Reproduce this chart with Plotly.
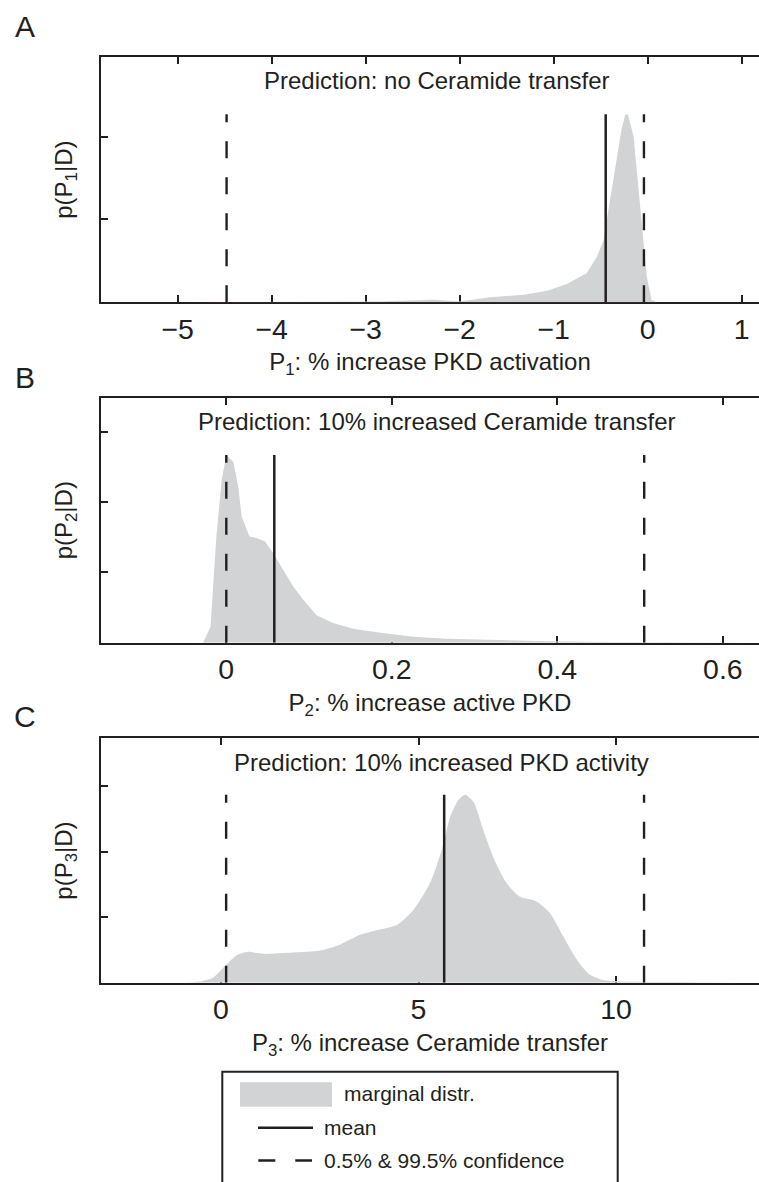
import plotly.graph_objects as go

# ---------------- data ----------------
panel_letters = ["A", "B", "C"]
titles = ["Prediction: no Ceramide transfer",
          "Prediction: 10% increased Ceramide transfer",
          "Prediction: 10% increased PKD activity"]
xlabels = ["P<sub>1</sub>: % increase PKD activation",
           "P<sub>2</sub>: % increase active PKD",
           "P<sub>3</sub>: % increase Ceramide transfer"]
ylabels = ["p(P<sub>1</sub>|D)", "p(P<sub>2</sub>|D)", "p(P<sub>3</sub>|D)"]

p1_x = [-5.0, -4.5, -4.0, -3.5, -3.0, -2.85, -2.28, -2.0, -1.68, -1.32, -1.07, -0.86,
        -0.65, -0.54, -0.47, -0.40, -0.33, -0.28, -0.24, -0.21, -0.15, -0.10, -0.05,
        -0.01, 0.04, 0.10]
p1_d = [0.0, 0.004, 0.006, 0.008, 0.01, 0.01, 0.03, 0.01, 0.06, 0.09, 0.14, 0.22,
        0.35, 0.55, 0.75, 1.24, 1.76, 2.08, 2.26, 2.27, 2.0, 1.40, 0.75,
        0.31, 0.03, 0.0]

p2_x = [-0.028, -0.019, -0.012, -0.0056, 0.0, 0.0085, 0.0145, 0.0186, 0.028, 0.0367,
        0.0468, 0.057, 0.069, 0.081, 0.093, 0.109, 0.129, 0.153, 0.182, 0.226, 0.266,
        0.327, 0.387, 0.467, 0.55, 0.64]
p2_d = [0.0, 0.23, 1.51, 2.31, 2.67, 2.57, 2.22, 1.79, 1.51, 1.49,
        1.44, 1.27, 1.03, 0.80, 0.61, 0.39, 0.28, 0.20, 0.15, 0.085, 0.057,
        0.038, 0.02, 0.01, 0.005, 0.0]

p3_x = [-1.04, -0.53, -0.19, 0.14, 0.40, 0.65, 1.07, 1.83, 2.51, 3.01, 3.52, 3.94,
        4.45, 4.87, 5.29, 5.59, 5.80, 6.01, 6.18, 6.39, 6.64, 6.89, 7.23, 7.57, 7.99,
        8.33, 8.67, 9.01, 9.34, 9.68, 10.1, 11.6, 13.3]
p3_d = [0.0, 0.02, 0.08, 0.28, 0.42, 0.47, 0.44, 0.46, 0.49, 0.58, 0.73, 0.80,
        0.88, 1.11, 1.52, 2.03, 2.53, 2.79, 2.87, 2.76, 2.33, 1.92, 1.52, 1.31, 1.24,
        1.06, 0.70, 0.35, 0.12, 0.04, 0.02, 0.01, 0.0]

means = [-0.447, 0.058, 5.65]
conf_lo = [-4.48, 0.0, 0.13]
conf_hi = [-0.04, 0.505, 10.71]

xticks = [[-5, -4, -3, -2, -1, 0, 1], [0, 0.2, 0.4, 0.6], [0, 5, 10]]
xticktext = [["\u22125", "\u22124", "\u22123", "\u22122", "\u22121", "0", "1"],
             ["0", "0.2", "0.4", "0.6"], ["0", "5", "10"]]
yticks = [[1, 2, 3], [1, 2, 3], [1, 2, 3]]

legend_labels = ["marginal distr.", "mean", "0.5% & 99.5% confidence"]

# ---------------- layout constants ----------------
W, H = 759, 1182
FONT = "Liberation Sans, Arial, Helvetica, sans-serif"
INK = "#231f20"
GREY = "#d1d3d4"
DASH = "17px,19px"


def fx(p):
    return p / W


def fy(p):
    return 1 - p / H


xranges = [[-5.816, 1.184], [-0.1514, 0.6437], [-3.038, 13.62]]
yranges = [[0, 2.96], [0, 3.485], [0, 3.73]]
plot_px = [(57.0, 302.3), (397.7, 642.7), (738.3, 982.7)]  # top, bottom in px
title_y = [80, 421.5, 762.5]
title_x = [436.5, 436.5, 441.5]
letter_y = [26, 378, 716]

series_x = [p1_x, p2_x, p3_x]
series_d = [p1_d, p2_d, p3_d]
shapes_line = ["linear", "linear", "spline"]

fig = go.Figure()
layout = dict(
    width=W, height=H,
    margin=dict(l=0, r=0, t=0, b=0),
    paper_bgcolor="white", plot_bgcolor="white",
    showlegend=False,
    font=dict(family=FONT, color=INK),
    annotations=[], shapes=[],
)

for i in range(3):
    xa = "x" if i == 0 else f"x{i+1}"
    ya = "y" if i == 0 else f"y{i+1}"
    xs, ds = series_x[i], series_d[i]
    peak = max(ds)
    fig.add_trace(go.Scatter(
        x=xs, y=ds, xaxis=xa, yaxis=ya, mode="lines",
        line=dict(width=0, color=GREY, shape=shapes_line[i], smoothing=0.7),
        fill="tozeroy", fillcolor=GREY, name=legend_labels[0], hoverinfo="skip"))
    fig.add_trace(go.Scatter(
        x=[means[i], means[i]], y=[0, peak], xaxis=xa, yaxis=ya, mode="lines",
        line=dict(width=2.5, color=INK), name=legend_labels[1]))
    for c in (conf_lo[i], conf_hi[i]):
        fig.add_trace(go.Scatter(
            x=[c, c], y=[0, peak], xaxis=xa, yaxis=ya, mode="lines",
            line=dict(width=2.4, color=INK, dash=DASH), name=legend_labels[2]))

    top, bot = plot_px[i]
    xkey = "xaxis" if i == 0 else f"xaxis{i+1}"
    ykey = "yaxis" if i == 0 else f"yaxis{i+1}"
    layout[xkey] = dict(
        domain=[fx(101), 1.0], range=xranges[i], anchor=ya,
        tickmode="array", tickvals=xticks[i], ticktext=xticktext[i],
        ticks="inside", ticklen=7, tickwidth=1.5, tickcolor=INK,
        showline=True, linecolor=INK, linewidth=2, mirror="ticks",
        showgrid=False, zeroline=False, layer="below traces",
        tickfont=dict(size=28.5, color=INK, family=FONT),
        ticklabelstandoff=0,
        title=dict(text=xlabels[i], font=dict(size=24, color=INK, family=FONT),
                   standoff=10),
        automargin=False, fixedrange=True,
    )
    layout[ykey] = dict(
        domain=[fy(bot), fy(top)], range=yranges[i], anchor=xa,
        tickmode="array", tickvals=yticks[i], showticklabels=False,
        ticks="inside", ticklen=7, tickwidth=1.5, tickcolor=INK,
        showline=True, linecolor=INK, linewidth=2, mirror=False,
        showgrid=False, zeroline=False, layer="below traces",
        title=dict(text=ylabels[i], font=dict(size=24, color=INK, family=FONT),
                   standoff=20),
        automargin=False, fixedrange=True,
    )
    layout["annotations"].append(dict(
        text=titles[i], xref="paper", yref="paper", x=fx(title_x[i]), y=fy(title_y[i]),
        xanchor="center", yanchor="middle", showarrow=False,
        font=dict(size=24, color=INK, family=FONT)))
    layout["annotations"].append(dict(
        text=panel_letters[i], xref="paper", yref="paper", x=fx(25), y=fy(letter_y[i]),
        xanchor="center", yanchor="middle", showarrow=False,
        font=dict(size=30, color=INK, family=FONT)))

# ---------------- hand-drawn legend box ----------------
layout["shapes"] += [
    dict(type="rect", xref="paper", yref="paper", x0=fx(222.3), x1=fx(617.7),
         y0=fy(1200), y1=fy(1071.7), line=dict(color=INK, width=2), fillcolor="white"),
    dict(type="rect", xref="paper", yref="paper", x0=fx(240), x1=fx(332),
         y0=fy(1106.7), y1=fy(1082.3), line=dict(width=0), fillcolor=GREY),
    dict(type="line", xref="paper", yref="paper", x0=fx(258), x1=fx(313),
         y0=fy(1127.7), y1=fy(1127.7), line=dict(color=INK, width=2.5)),
    dict(type="line", xref="paper", yref="paper", x0=fx(258.3), x1=fx(312),
         y0=fy(1160.5), y1=fy(1160.5), line=dict(color=INK, width=2.5, dash="17px,20px")),
]
legend_text_pos = [(341.5, 1093.5), (322.3, 1127.5), (322.0, 1160.5)]
for lab, (lx, ly) in zip(legend_labels, legend_text_pos):
    layout["annotations"].append(dict(
        text=lab, xref="paper", yref="paper", x=fx(lx), y=fy(ly),
        xanchor="left", yanchor="middle", showarrow=False,
        font=dict(size=21, color=INK, family=FONT)))

fig.update_layout(**layout)
fig.write_html(
    "out.html",
    config={"displayModeBar": False},
    post_script="document.body.style.margin='0';document.body.style.overflow='hidden';",
)
